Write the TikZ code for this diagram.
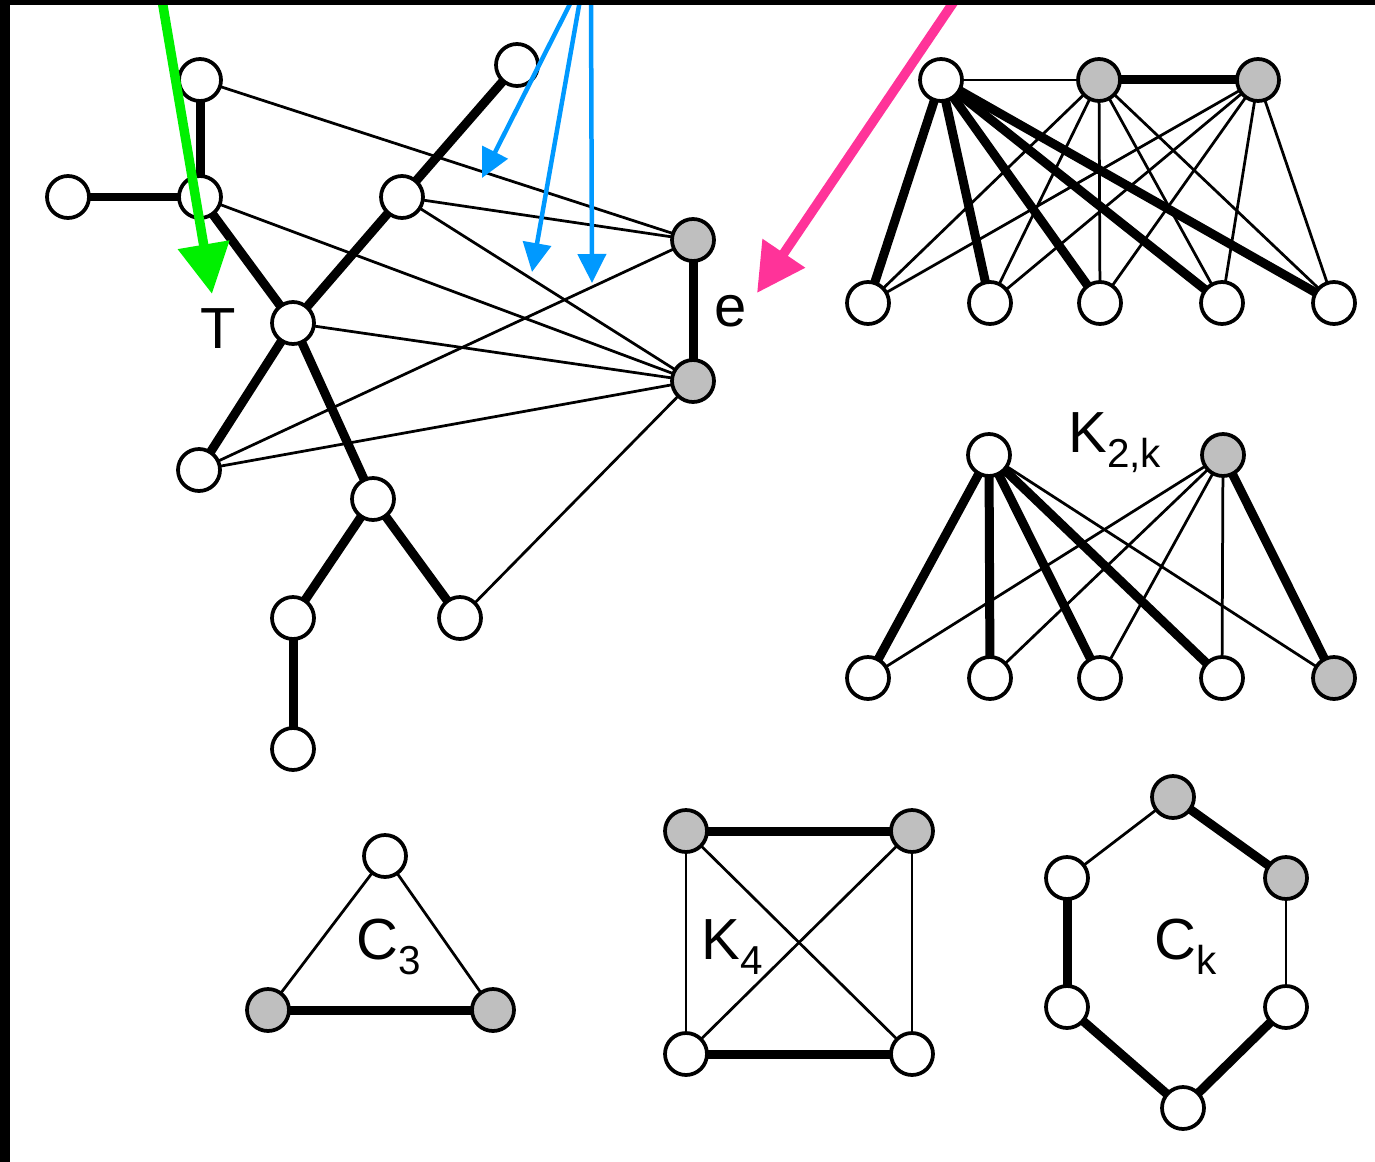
\documentclass[tikz,border=0pt]{standalone}
\usepackage{fontspec}
\setmainfont{Liberation Sans}
\usetikzlibrary{arrows.meta,backgrounds}
\begin{document}
\begin{tikzpicture}[x=0.02cm,y=-0.02cm,
  vtx/.style={circle,draw=black,line width=0.075cm,fill=white,minimum size=0.84cm,inner sep=0pt},
  gvtx/.style={vtx,fill=gray!50},
  thinedge/.style={line width=0.055cm},
  thickedge/.style={line width=0.18cm},
  bigfont/.style={font=\fontsize{33}{40}\selectfont,inner sep=0pt},
  subfont/.style={font=\fontsize{23}{28}\selectfont},
  greenarrow/.style={draw={rgb,255:red,0;green,240;blue,0},line width=0.19cm,-{Triangle[width=1.0cm,length=1.0cm]}},
  pinkarrow/.style={draw={rgb,255:red,255;green,51;blue,153},line width=0.19cm,-{Triangle[width=0.98cm,length=0.96cm]}},
  bluearrow/.style={draw={rgb,255:red,0;green,153;blue,255},line width=0.09cm,-{Triangle[width=0.56cm,length=0.58cm]}}
]
\useasboundingbox (0,0) rectangle (1375,1162);
\fill[black] (0,0) rectangle (10,1162);

% main graph
\node[vtx] (a1) at (200,80) {};
\node[vtx] (a2) at (68,197) {};
\node[vtx] (a3) at (200,197) {};
\node[vtx] (a4) at (517,65) {};
\node[vtx] (a5) at (402,197) {};
\node[gvtx] (a6) at (693,240) {};
\node[vtx] (a7) at (293,323) {};
\node[gvtx] (a8) at (693,381) {};
\node[vtx] (a9) at (199,470) {};
\node[vtx] (a10) at (373,499) {};
\node[vtx] (a11) at (293,618) {};
\node[vtx] (a12) at (460,618) {};
\node[vtx] (a13) at (293,749) {};

% top right graph
\node[vtx] (t1) at (941,80) {};
\node[gvtx] (t2) at (1099,80) {};
\node[gvtx] (t3) at (1258,80) {};
\node[vtx] (b1) at (868,303) {};
\node[vtx] (b2) at (990,303) {};
\node[vtx] (b3) at (1100,303) {};
\node[vtx] (b4) at (1222,303) {};
\node[vtx] (b5) at (1334,303) {};

% K2,k
\node[vtx] (k1) at (989,455) {};
\node[gvtx] (k2) at (1223,455) {};
\node[vtx] (c1) at (868,678) {};
\node[vtx] (c2) at (990,678) {};
\node[vtx] (c3) at (1100,678) {};
\node[vtx] (c4) at (1222,678) {};
\node[gvtx] (c5) at (1334,678) {};

% C3
\node[vtx] (d1) at (385,856) {};
\node[gvtx] (d2) at (268,1010) {};
\node[gvtx] (d3) at (493,1010) {};

% K4
\node[gvtx] (q1) at (686,831) {};
\node[gvtx] (q2) at (912,831) {};
\node[vtx] (q3) at (686,1054) {};
\node[vtx] (q4) at (912,1054) {};

% Ck
\node[gvtx] (h1) at (1173,797) {};
\node[gvtx] (h2) at (1286,878) {};
\node[vtx] (h3) at (1286,1007) {};
\node[vtx] (h4) at (1183,1108) {};
\node[vtx] (h5) at (1067,1007) {};
\node[vtx] (h6) at (1067,878) {};

\begin{scope}[on background layer]
  % main graph tree
  \foreach \u/\v in {a1/a3,a2/a3,a3/a7,a4/a5,a5/a7,a7/a9,a7/a10,a10/a11,a10/a12,a11/a13,a6/a8}
    \draw[thickedge] (\u.center) -- (\v.center);
  \foreach \u/\v in {a1/a6,a5/a6,a5/a8,a3/a8,a7/a8,a9/a6,a9/a8,a12/a8}
    \draw[thinedge] (\u.center) -- (\v.center);
  % top right
  \draw[thinedge] (t1.center) -- (t2.center);
  \draw[thickedge] (t2.center) -- (t3.center);
  \foreach \b in {b1,b2,b3,b4,b5} {
    \draw[thickedge] (t1.center) -- (\b.center);
    \draw[thinedge] (t2.center) -- (\b.center);
    \draw[thinedge] (t3.center) -- (\b.center);
  }
  % K2,k
  \foreach \c in {c1,c2,c3,c4} {
    \draw[thickedge] (k1.center) -- (\c.center);
    \draw[thinedge] (k2.center) -- (\c.center);
  }
  \draw[thinedge] (k1.center) -- (c5.center);
  \draw[thickedge] (k2.center) -- (c5.center);
  % C3
  \draw[thinedge] (d1.center) -- (d2.center);
  \draw[thinedge] (d1.center) -- (d3.center);
  \draw[thickedge] (d2.center) -- (d3.center);
  % K4
  \draw[thickedge] (q1.center) -- (q2.center);
  \draw[thickedge] (q3.center) -- (q4.center);
  \foreach \u/\v in {q1/q3,q2/q4,q1/q4,q2/q3}
    \draw[thinedge] (\u.center) -- (\v.center);
  % Ck
  \draw[thickedge] (h1.center) -- (h2.center);
  \draw[thinedge] (h2.center) -- (h3.center);
  \draw[thickedge] (h3.center) -- (h4.center);
  \draw[thickedge] (h4.center) -- (h5.center);
  \draw[thickedge] (h5.center) -- (h6.center);
  \draw[thinedge] (h6.center) -- (h1.center);
\end{scope}

% labels
\node[bigfont,anchor=base] (lT) at (218,348) {T};
\node[bigfont,anchor=base] (le) at (731,326) {e};
\node[bigfont,anchor=base west] (lK2k) at (1068,452) {K\raisebox{-9pt}{\fontsize{23}{28}\selectfont 2,k}};
\node[bigfont,anchor=base west] (lC3) at (356,959) {C\raisebox{-9pt}{\fontsize{23}{28}\selectfont 3}};
\node[bigfont,anchor=base west] (lK4) at (701,959) {K\raisebox{-9pt}{\fontsize{23}{28}\selectfont 4}};
\node[bigfont,anchor=base west] (lCk) at (1154,959) {C\raisebox{-9pt}{\fontsize{23}{28}\selectfont k}};

% arrows
\coordinate (gs) at (162,0);
\coordinate (ge) at (212,294);
\draw[greenarrow] (gs) -- (ge);
\coordinate (ps) at (955,0);
\coordinate (pe) at (757,293);
\draw[pinkarrow] (ps) -- (pe);
\coordinate (bs1) at (572,0);
\coordinate (be1) at (482,178);
\coordinate (bs2) at (580,0);
\coordinate (be2) at (532,272);
\coordinate (bs3) at (591,0);
\coordinate (be3) at (592,283);
\draw[bluearrow] (bs1) -- (be1);
\draw[bluearrow] (bs2) -- (be2);
\draw[bluearrow] (bs3) -- (be3);
\fill[black] (0,0) rectangle (1375,5);
\end{tikzpicture}
\end{document}
